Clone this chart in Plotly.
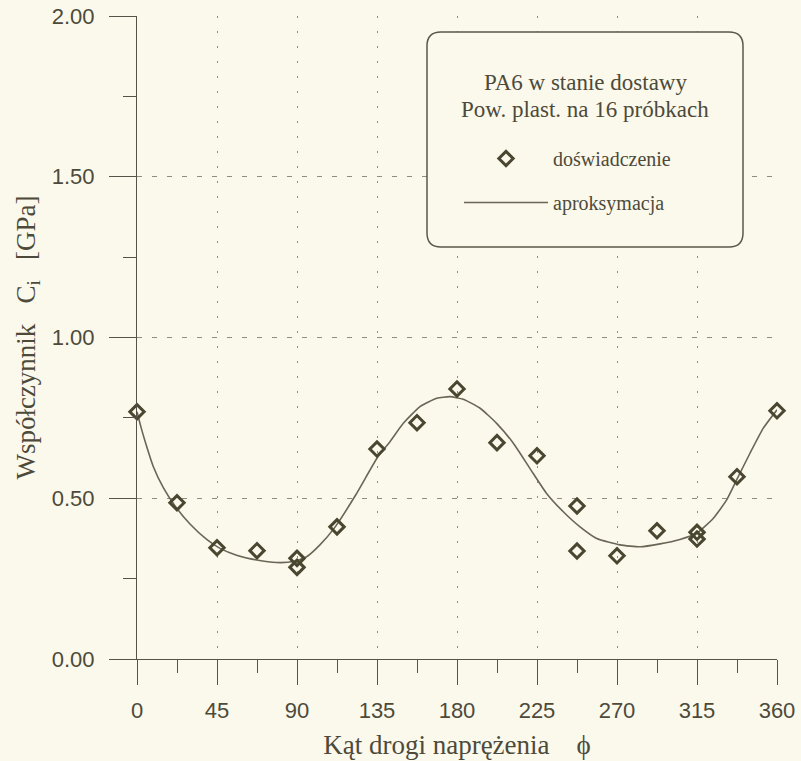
import plotly.graph_objects as go

# ---- data ----
exp_angle = [0, 22.5, 45, 67.5, 90, 90, 112.5, 135, 157.5, 180, 202.5, 225,
             247.5, 247.5, 270, 292.5, 315, 315, 337.5, 360]
exp_value = [0.769, 0.486, 0.346, 0.337, 0.313, 0.285, 0.411, 0.653, 0.735, 0.840,
             0.673, 0.632, 0.476, 0.336, 0.321, 0.399, 0.394, 0.373, 0.567, 0.772]

fit_angle = [0, 2.2, 4.5, 9.2, 14.8, 21.4, 29.8, 39.2, 46.7, 56, 67.3, 78.5, 87.9, 95.4,
             102.9, 111.5, 123, 135.5, 142.3, 149.8, 159.2, 168.6, 176, 183.5, 193,
             202.3, 211.7, 221, 230.4, 239.8, 249.2, 258.6, 271.7, 283, 294.2, 305.4,
             314.8, 324.2, 331.7, 337.3, 344.8, 352.3, 360]
fit_value = [0.769, 0.722, 0.678, 0.598, 0.533, 0.476, 0.420, 0.372, 0.344, 0.323, 0.308,
             0.300, 0.303, 0.318, 0.355, 0.411, 0.510, 0.629, 0.676, 0.733, 0.785,
             0.811, 0.816, 0.808, 0.780, 0.733, 0.671, 0.593, 0.515, 0.458, 0.411,
             0.375, 0.355, 0.349, 0.358, 0.372, 0.391, 0.438, 0.495, 0.557, 0.640,
             0.718, 0.775]

x_ticks = [0, 45, 90, 135, 180, 225, 270, 315, 360]
y_ticks = [0.0, 0.5, 1.0, 1.5, 2.0]
y_labels = ["0.00", "0.50", "1.00", "1.50", "2.00"]

legend_title = ["PA6 w stanie dostawy", "Pow. plast. na 16 próbkach"]
name_exp = "doświadczenie"
name_fit = "aproksymacja"

# ---- style ----
BG = "#FBF9EC"
INK = "#4d4a3a"
MARK = "#4a4630"
LINE = "#6a6656"
GRID = "#8f8d82"
AX = "#55524a"
SERIF = "Liberation Serif, Times New Roman, serif"
SANS = "Liberation Sans, Arial, sans-serif"

W, H = 801, 761
ML, MR, MT, MB = 137, 24, 16, 102

fig = go.Figure()
fig.add_trace(go.Scatter(
    x=fit_angle, y=fit_value, mode="lines", name=name_fit,
    line=dict(color=LINE, width=1.6, shape="spline", smoothing=0.5),
    legendrank=2, legendgroup="b", cliponaxis=False,
))
fig.add_trace(go.Scatter(
    x=exp_angle, y=exp_value, mode="markers", name=name_exp,
    marker=dict(symbol="diamond-open", size=11, color=MARK, line=dict(width=3, color=MARK)),
    legendrank=1, legendgroup="a", cliponaxis=False,
))

pw = W - ML - MR
ph = H - MT - MB


def fx(px):
    return (px - ML) / pw


def fy(py):
    return (H - MB - py) / ph


# rounded legend box (pixel geometry converted to paper fractions)
x0, x1, y0, y1, r = 427, 743, 32, 247, 14
pts = [
    ("M", (x0 + r, y0)), ("L", (x1 - r, y0)), ("Q", (x1, y0), (x1, y0 + r)),
    ("L", (x1, y1 - r)), ("Q", (x1, y1), (x1 - r, y1)), ("L", (x0 + r, y1)),
    ("Q", (x0, y1), (x0, y1 - r)), ("L", (x0, y0 + r)), ("Q", (x0, y0), (x0 + r, y0)),
]
path = ""
for p in pts:
    cmd = p[0]
    coords = " ".join(f"{fx(a):.5f},{fy(b):.5f}" for a, b in p[1:])
    path += f"{cmd}{coords} "
path += "Z"
fig.add_shape(type="path", path=path, xref="paper", yref="paper",
              line=dict(color="#5a5848", width=1.5), fillcolor=BG, layer="above")

for i, t in enumerate(legend_title):
    fig.add_annotation(text=t, xref="paper", yref="paper", x=fx(585), y=fy(82 + 27 * i),
                       showarrow=False, xanchor="center", yanchor="middle",
                       font=dict(family=SERIF, size=23, color=INK))

fig.update_layout(
    width=W, height=H,
    margin=dict(l=ML, r=MR, t=MT, b=MB, pad=0, autoexpand=False),
    paper_bgcolor=BG, plot_bgcolor=BG,
    showlegend=True,
    legend=dict(x=fx(459), y=fy(139), xanchor="left", yanchor="top",
                bgcolor="rgba(0,0,0,0)", borderwidth=0,
                font=dict(family=SERIF, size=20, color=INK),
                itemwidth=84, tracegroupgap=15, traceorder="grouped"),
    xaxis=dict(
        range=[0, 360], tickvals=x_ticks, ticktext=[str(v) for v in x_ticks],
        showline=True, linecolor=AX, linewidth=1, automargin=False,
        ticks="outside", ticklen=25, tickwidth=1, tickcolor=AX,
        minor=dict(dtick=22.5, tick0=0, ticks="outside", ticklen=13, tickwidth=1,
                   tickcolor=AX, showgrid=False),
        showgrid=True, gridcolor=GRID, griddash="2px,13px", gridwidth=1,
        zeroline=False, ticklabelstandoff=7,
        tickfont=dict(family=SANS, size=22, color=INK),
        title=dict(text="Kąt drogi naprężenia\u00a0\u00a0\u00a0\u00a0ϕ", standoff=12,
                   font=dict(family=SERIF, size=27, color=INK)),
    ),
    yaxis=dict(
        range=[0, 2.0], tickvals=y_ticks, ticktext=y_labels,
        showline=True, linecolor=AX, linewidth=1, automargin=False,
        ticks="outside", ticklen=27, tickwidth=1, tickcolor=AX,
        minor=dict(dtick=0.25, tick0=0, ticks="outside", ticklen=13, tickwidth=1,
                   tickcolor=AX, showgrid=False),
        showgrid=True, gridcolor=GRID, griddash="5px,10px", gridwidth=1,
        zeroline=False, ticklabelstandoff=10,
        tickfont=dict(family=SANS, size=22, color=INK),
        title=dict(text="Współczynnik\u00a0\u00a0\u00a0C<sub>i</sub>\u00a0\u00a0\u00a0[GPa]",
                   standoff=8, font=dict(family=SERIF, size=27, color=INK)),
    ),
)

fig.write_html("out.html")
